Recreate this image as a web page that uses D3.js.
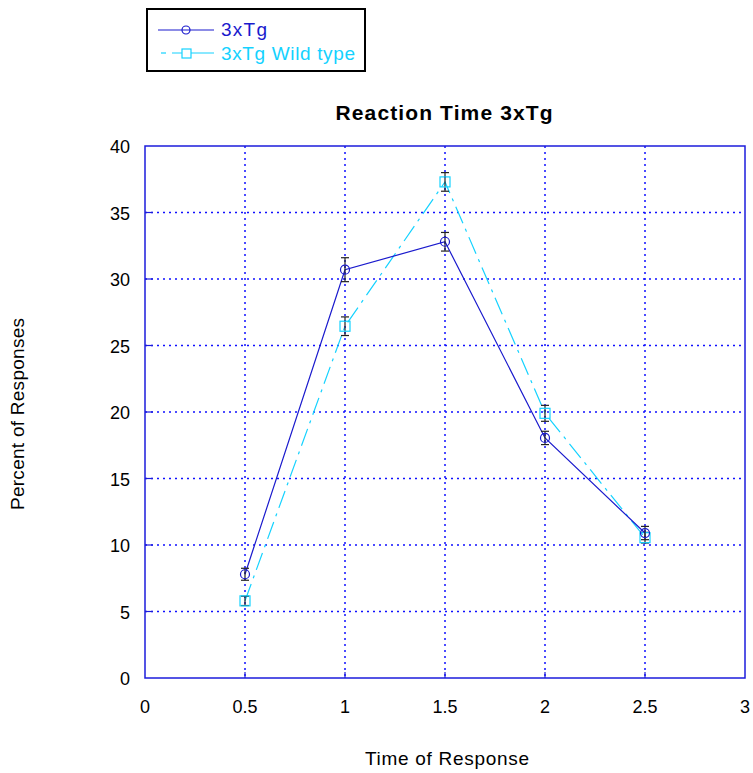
<!DOCTYPE html>
<html>
<head>
<meta charset="utf-8">
<script src="https://cdn.jsdelivr.net/npm/d3@7"></script>
<style>
  body { margin: 0; background: #fff; }
  text { font-family: "Liberation Sans", Arial, sans-serif; }
</style>
</head>
<body>
<svg id="chart" width="753" height="773"></svg>
<script>
// data
var times = [0.5, 1, 1.5, 2, 2.5];
var tgValues = [7.8, 30.7, 32.8, 18.05, 10.9];
var tgErrors = [0.45, 0.9, 0.7, 0.5, 0.5];
var wildValues = [5.8, 26.45, 37.3, 19.9, 10.55];
var wildErrors = [0.35, 0.7, 0.7, 0.6, 0.4];
var xTicks = [0, 0.5, 1, 1.5, 2, 2.5, 3];
var yTicks = [0, 5, 10, 15, 20, 25, 30, 35, 40];

var svg = d3.select("#chart");

var plotLeft = 145, plotRight = 745, plotTop = 146, plotBottom = 678;

var x = d3.scaleLinear().domain([0, 3]).range([plotLeft, plotRight]);
var y = d3.scaleLinear().domain([0, 40]).range([plotBottom, plotTop]);

var blue = "#1a1acd", cyan = "#14d2ff", gridBlue = "#1010ff";

// grid
svg.append("g").selectAll("line")
    .data(xTicks.slice(1, -1))
    .enter().append("line")
    .attr("x1", function (d) { return x(d); })
    .attr("x2", function (d) { return x(d); })
    .attr("y1", plotTop).attr("y2", plotBottom)
    .attr("stroke", gridBlue).attr("stroke-width", 1.5)
    .attr("stroke-dasharray", "2,4");

svg.append("g").selectAll("line")
    .data(yTicks.slice(1, -1))
    .enter().append("line")
    .attr("y1", function (d) { return y(d); })
    .attr("y2", function (d) { return y(d); })
    .attr("x1", plotLeft).attr("x2", plotRight)
    .attr("stroke", gridBlue).attr("stroke-width", 1.5)
    .attr("stroke-dasharray", "2,4");

// inward tick marks
svg.append("g").selectAll("line")
    .data(yTicks.slice(1, -1))
    .enter().append("line")
    .attr("y1", function (d) { return y(d); })
    .attr("y2", function (d) { return y(d); })
    .attr("x1", plotLeft).attr("x2", plotLeft + 8)
    .attr("stroke", "#1c1cdc").attr("stroke-width", 1.2);

svg.append("g").selectAll("line")
    .data(xTicks.slice(1, -1))
    .enter().append("line")
    .attr("x1", function (d) { return x(d); })
    .attr("x2", function (d) { return x(d); })
    .attr("y1", plotBottom).attr("y2", plotBottom - 6)
    .attr("stroke", "#1c1cdc").attr("stroke-width", 1.2);

// box
svg.append("rect")
    .attr("x", plotLeft).attr("y", plotTop)
    .attr("width", plotRight - plotLeft).attr("height", plotBottom - plotTop)
    .attr("fill", "none").attr("stroke", "#1c1cdc").attr("stroke-width", 1.5);

// tick labels
svg.append("g").selectAll("text")
    .data(xTicks)
    .enter().append("text")
    .attr("x", function (d) { return x(d); })
    .attr("y", 713)
    .attr("text-anchor", "middle")
    .attr("font-size", 18)
    .text(function (d) { return d; });

svg.append("g").selectAll("text")
    .data(yTicks)
    .enter().append("text")
    .attr("x", 130)
    .attr("y", function (d) { return y(d) + 7; })
    .attr("text-anchor", "end")
    .attr("font-size", 18)
    .text(function (d) { return d; });

// titles
svg.append("text")
    .attr("x", 444).attr("y", 120)
    .attr("text-anchor", "middle")
    .attr("font-size", 21).attr("font-weight", "bold")
    .attr("textLength", 217)
    .text("Reaction Time 3xTg");

svg.append("text")
    .attr("x", 447).attr("y", 765)
    .attr("text-anchor", "middle")
    .attr("font-size", 19)
    .attr("textLength", 164)
    .text("Time of Response");

svg.append("text")
    .attr("transform", "translate(24,414) rotate(-90)")
    .attr("text-anchor", "middle")
    .attr("font-size", 19)
    .attr("textLength", 192)
    .text("Percent of Responses");

var line = d3.line()
    .x(function (d) { return x(d[0]); })
    .y(function (d) { return y(d[1]); });

var tg = times.map(function (t, i) { return [t, tgValues[i], tgErrors[i]]; });
var wild = times.map(function (t, i) { return [t, wildValues[i], wildErrors[i]]; });

function drawErrors(data) {
    var g = svg.append("g").attr("stroke", "#222").attr("stroke-width", 1.2);
    data.forEach(function (d) {
        var cx = x(d[0]), y1 = y(d[1] + d[2]), y2 = y(d[1] - d[2]);
        g.append("line").attr("x1", cx).attr("x2", cx).attr("y1", y1).attr("y2", y2);
        g.append("line").attr("x1", cx - 4).attr("x2", cx + 4).attr("y1", y1).attr("y2", y1);
        g.append("line").attr("x1", cx - 4).attr("x2", cx + 4).attr("y1", y2).attr("y2", y2);
    });
}

// wild type series
svg.append("path")
    .datum(wild)
    .attr("d", line)
    .attr("fill", "none").attr("stroke", cyan).attr("stroke-width", 1.2)
    .attr("stroke-dasharray", "18,6,3,6");
drawErrors(wild);
svg.append("g").selectAll("rect")
    .data(wild)
    .enter().append("rect")
    .attr("x", function (d) { return x(d[0]) - 5; })
    .attr("y", function (d) { return y(d[1]) - 5; })
    .attr("width", 10).attr("height", 10)
    .attr("fill", "none").attr("stroke", cyan).attr("stroke-width", 1.2);

// 3xTg series
svg.append("path")
    .datum(tg)
    .attr("d", line)
    .attr("fill", "none").attr("stroke", blue).attr("stroke-width", 1.2);
drawErrors(tg);
svg.append("g").selectAll("circle")
    .data(tg)
    .enter().append("circle")
    .attr("cx", function (d) { return x(d[0]); })
    .attr("cy", function (d) { return y(d[1]); })
    .attr("r", 4.5)
    .attr("fill", "none").attr("stroke", blue).attr("stroke-width", 1.2);

// legend
var legend = svg.append("g");
legend.append("rect")
    .attr("x", 147).attr("y", 9).attr("width", 218).attr("height", 62)
    .attr("fill", "#fff").attr("stroke", "#000").attr("stroke-width", 2);
legend.append("line")
    .attr("x1", 158).attr("x2", 214).attr("y1", 30).attr("y2", 30)
    .attr("stroke", blue).attr("stroke-width", 1.2);
legend.append("circle")
    .attr("cx", 186).attr("cy", 30).attr("r", 4)
    .attr("fill", "none").attr("stroke", blue).attr("stroke-width", 1.2);
legend.append("text")
    .attr("x", 221).attr("y", 36).attr("font-size", 19).attr("fill", blue)
    .attr("textLength", 46)
    .text("3xTg");
legend.append("line")
    .attr("x1", 172).attr("x2", 214).attr("y1", 53).attr("y2", 53)
    .attr("stroke", cyan).attr("stroke-width", 1.2);
legend.append("line")
    .attr("x1", 161).attr("x2", 166).attr("y1", 53).attr("y2", 53)
    .attr("stroke", cyan).attr("stroke-width", 1.2);
legend.append("rect")
    .attr("x", 182).attr("y", 49).attr("width", 9).attr("height", 9)
    .attr("fill", "#fff").attr("stroke", cyan).attr("stroke-width", 1.2);
legend.append("text")
    .attr("x", 221).attr("y", 60).attr("font-size", 19).attr("fill", cyan)
    .attr("textLength", 134)
    .text("3xTg Wild type");
</script>
</body>
</html>
